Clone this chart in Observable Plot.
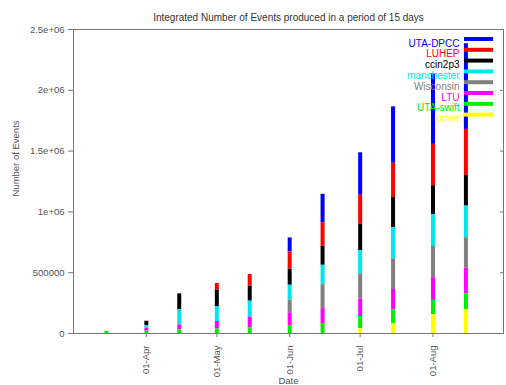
<!DOCTYPE html>
<html><head><meta charset="utf-8">
<script src="https://cdn.jsdelivr.net/npm/d3@7"></script>
<script src="https://cdn.jsdelivr.net/npm/@observablehq/plot@0.6"></script>
<style>html,body{margin:0;padding:0;background:#fff;overflow:hidden;}</style>
</head><body><div id="chart"></div>
<script>
const dates = ["2004-03-15","2004-04-01","2004-04-15","2004-05-01","2004-05-15","2004-06-01","2004-06-15","2004-07-01","2004-07-15","2004-08-01","2004-08-15"];
const series = ["UTA-DPCC","LUHEP","ccin2p3","manchester","Wisconsin","LTU","UTA-swift","other"];
const colors = ["#0000ff","#ff0000","#000000","#00e5ee","#808080","#ff00ff","#00ee00","#ffff00"];
const utaDpcc    = [0, 0, 0, 0, 0, 115000, 233000, 349000, 464000, 581000, 705000];
const luhep      = [0, 0, 0, 54000, 96000, 142000, 195000, 238000, 280000, 340000, 378000];
const ccin2p3    = [0, 35000, 132000, 135000, 123000, 132000, 156000, 216000, 249000, 238000, 252000];
const manchester = [0, 22000, 123000, 123000, 132000, 123000, 159000, 195000, 257000, 261000, 260000];
const wisconsin  = [0, 0, 0, 0, 0, 104000, 197000, 206000, 252000, 257000, 250000];
const ltu        = [0, 25000, 41000, 62000, 87000, 104000, 123000, 142000, 167000, 187000, 211000];
const utaSwift   = [18000, 19000, 30000, 37000, 47000, 66000, 82000, 101000, 115000, 118000, 132000];
const other      = [0, 0, 0, 0, 0, 0, 0, 39000, 80000, 154000, 195000];
const yTicks = [0, 500000, 1000000, 1500000, 2000000, 2500000];
const yTickLabels = ["0", "500000", "1e+06", "1.5e+06", "2e+06", "2.5e+06"];
const xTicks = ["2004-04-01","2004-05-01","2004-06-01","2004-07-01","2004-08-01"];
const xDomain = ["2004-03-01","2004-08-31"];
const title = "Integrated Number of Events produced in a period of 15 days";
const yLabel = "Number of Events";
const xLabel = "Date";

const valuesBySeries = [utaDpcc, luhep, ccin2p3, manchester, wisconsin, ltu, utaSwift, other];
const rows = [];
series.forEach((s, i) => dates.forEach((d, j) => rows.push({date: new Date(d), series: s, value: valuesBySeries[i][j]})));
const stackOrder = series.slice().reverse();

const plot = Plot.plot({
  width: 506, height: 385,
  marginLeft: 73, marginRight: 3, marginTop: 29, marginBottom: 52,
  style: {fontFamily: "'Liberation Sans', Arial, sans-serif", fontSize: "9.5px", color: "#555", background: "#fff", overflow: "visible"},
  x: {type: "utc", domain: xDomain.map(d => new Date(d))},
  y: {domain: [0, 2500000]},
  color: {domain: series, range: colors},
  marks: [
    Plot.ruleX(rows, Plot.stackY({x: "date", y: "value", z: "series", stroke: "series", strokeWidth: 4, order: stackOrder})),
    Plot.frame({stroke: "#777"}),
    Plot.axisY({ticks: yTicks, tickFormat: d => yTickLabels[yTicks.indexOf(d)], tickSize: 5, tickPadding: 4, label: null, stroke: "#777"}),
    Plot.axisY({anchor: "right", ticks: yTicks, tickFormat: () => "", tickSize: -4, label: null, stroke: "#777"}),
    Plot.axisX({ticks: xTicks.map(d => new Date(d)), tickFormat: d3.utcFormat("%d-%b"), tickRotate: -90, tickSize: 4, tickPadding: 8, label: null, stroke: "#777"}),
    Plot.text([title], {frameAnchor: "top", dy: -16, fontSize: 10, fill: "#333"}),
    Plot.text([yLabel], {frameAnchor: "left", dx: -58, dy: 15, rotate: -90, fill: "#555"}),
    Plot.text([xLabel], {frameAnchor: "bottom", dy: 50, fill: "#555"}),
    ...series.map((s, i) => Plot.text([s], {frameAnchor: "top-right", dx: -44, dy: 10 + i * 10.8, fill: colors[i], textAnchor: "end", fontSize: 10}))
  ]
});
document.getElementById("chart").appendChild(plot);

// legend sample lines
const svg = d3.select(plot);
const right = 506 - 3;
series.forEach((s, i) => {
  const y = 29 + 10 + i * 10.8;
  svg.append("line").attr("x1", right - 39).attr("x2", right - 10).attr("y1", y).attr("y2", y)
    .attr("stroke", colors[i]).attr("stroke-width", 4);
});
</script>
</body></html>
